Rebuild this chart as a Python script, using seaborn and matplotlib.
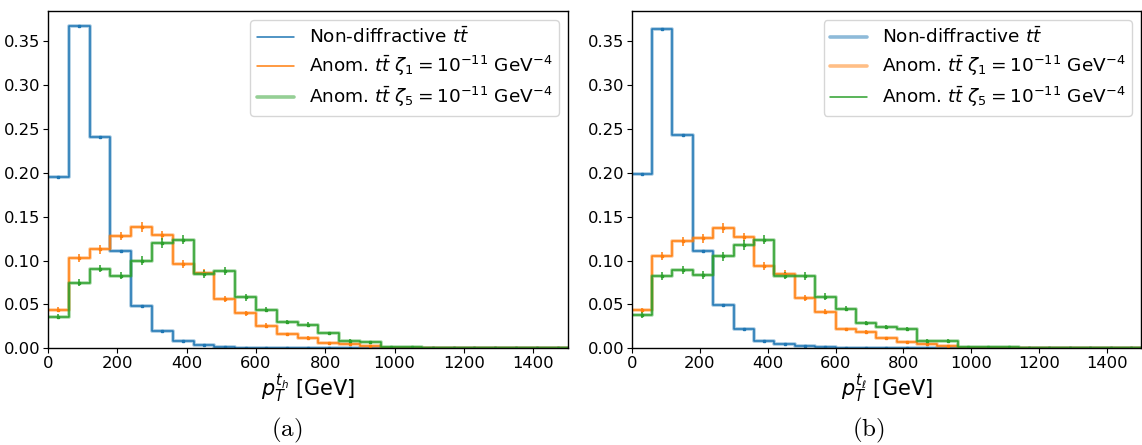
import numpy as np
import pandas as pd
import matplotlib
matplotlib.use("Agg")
import matplotlib.pyplot as plt
from matplotlib.lines import Line2D
import seaborn as sns

sns.set_style("ticks")
plt.rcParams['font.family'] = ['DejaVu Sans']
plt.rcParams['text.color'] = 'black'
plt.rcParams['axes.labelcolor'] = 'black'
plt.rcParams['xtick.color'] = 'black'
plt.rcParams['ytick.color'] = 'black'
plt.rcParams['axes.edgecolor'] = 'black'

bin_edges = list(range(0, 1501, 60))

# Panel (a): hadronic top pT
nd_a = [0.195, 0.367, 0.241, 0.111, 0.048, 0.020, 0.0085, 0.0035, 0.0016, 0.0009,
        0.0005, 0.0004, 0.0003, 0.0002, 0.0002, 0.0001, 0.0001, 0.0001, 0.00005, 0.00005,
        0.00005, 0.00003, 0.00003, 0.00002, 0.00002]
z1_a = [0.044, 0.103, 0.113, 0.128, 0.138, 0.129, 0.096, 0.086, 0.0565, 0.040,
        0.026, 0.016, 0.012, 0.0065, 0.0046, 0.0027, 0.0007, 0.0005, 0.0004, 0.0003,
        0.0002, 0.0002, 0.0001, 0.0001, 0.0001]
z5_a = [0.036, 0.075, 0.091, 0.083, 0.100, 0.120, 0.124, 0.085, 0.088, 0.058,
        0.044, 0.030, 0.027, 0.017, 0.0088, 0.007, 0.0015, 0.0012, 0.0009, 0.0006,
        0.0005, 0.0004, 0.0003, 0.0002, 0.0002]
nd_a_err = [0.0012, 0.0016, 0.0013, 0.0009, 0.0006, 0.0004, 0.0003, 0.0002, 0.0001, 0.0001,
            0.0001, 0.0001, 0.0001, 0.0001, 0.0001, 0.0001, 0.0001, 0.0001, 0.0001, 0.0001,
            0.0001, 0.0001, 0.0001, 0.0001, 0.0001]
z1_a_err = [0.003, 0.0045, 0.005, 0.005, 0.0055, 0.005, 0.0045, 0.004, 0.0035, 0.003,
            0.0025, 0.002, 0.0017, 0.0012, 0.001, 0.0008, 0.0004, 0.0003, 0.0003, 0.0002,
            0.0002, 0.0002, 0.0001, 0.0001, 0.0001]
z5_a_err = [0.003, 0.004, 0.0045, 0.0045, 0.005, 0.0055, 0.0055, 0.0045, 0.0045, 0.0035,
            0.003, 0.0025, 0.0025, 0.002, 0.0015, 0.0013, 0.0006, 0.0005, 0.0004, 0.0003,
            0.0003, 0.0003, 0.0002, 0.0002, 0.0002]

# Panel (b): leptonic top pT
nd_b = [0.199, 0.364, 0.243, 0.111, 0.049, 0.0216, 0.0087, 0.0045, 0.0023, 0.0011,
        0.0006, 0.0004, 0.0003, 0.0002, 0.0002, 0.0001, 0.0001, 0.0001, 0.00005, 0.00005,
        0.00005, 0.00003, 0.00003, 0.00002, 0.00002]
z1_b = [0.0435, 0.105, 0.122, 0.1256, 0.137, 0.127, 0.094, 0.085, 0.0575, 0.0416,
        0.0216, 0.0185, 0.0113, 0.0076, 0.005, 0.0026, 0.0008, 0.0006, 0.0004, 0.0003,
        0.0002, 0.0002, 0.0001, 0.0001, 0.0001]
z5_b = [0.038, 0.082, 0.0897, 0.0836, 0.105, 0.118, 0.124, 0.083, 0.082, 0.059,
        0.045, 0.029, 0.0246, 0.0216, 0.0087, 0.0087, 0.002, 0.0015, 0.001, 0.0007,
        0.0005, 0.0004, 0.0003, 0.0002, 0.0002]
nd_b_err = nd_a_err
z1_b_err = [0.003, 0.0045, 0.005, 0.005, 0.0055, 0.005, 0.0045, 0.004, 0.0035, 0.003,
            0.002, 0.002, 0.0015, 0.0012, 0.001, 0.0008, 0.0004, 0.0003, 0.0003, 0.0002,
            0.0002, 0.0002, 0.0001, 0.0001, 0.0001]
z5_b_err = [0.003, 0.0045, 0.0045, 0.0045, 0.005, 0.0055, 0.0055, 0.0045, 0.0045, 0.0035,
            0.003, 0.0025, 0.0025, 0.0022, 0.0015, 0.0015, 0.0007, 0.0006, 0.0005, 0.0004,
            0.0003, 0.0003, 0.0002, 0.0002, 0.0002]

labels = [r"Non-diffractive $t\bar{t}$",
          r"Anom. $t\bar{t}$ $\zeta_1 = 10^{-11}$ GeV$^{-4}$",
          r"Anom. $t\bar{t}$ $\zeta_5 = 10^{-11}$ GeV$^{-4}$"]
colors = ["#1f77b4", "#ff7f0e", "#2ca02c"]
xlabels = [r"$p_T^{t_h}$ [GeV]", r"$p_T^{t_\ell}$ [GeV]"]
captions = ["a", "b"]
caption_x = [287 / 1142, 868 / 1142]

fig = plt.figure(figsize=(11.42, 4.45), dpi=100)
ax_a = fig.add_axes([48 / 1142, 1 - 348.3 / 445, 520 / 1142, 337.6 / 445])
ax_b = fig.add_axes([631.7 / 1142, 1 - 348.3 / 445, 509.5 / 1142, 337.6 / 445])

edges = [float(e) for e in bin_edges]
centers = [0.5 * (edges[i] + edges[i + 1]) for i in range(len(edges) - 1)]

panels = [
    (ax_a, [nd_a, z1_a, z5_a], [nd_a_err, z1_a_err, z5_a_err], [False, False, True]),
    (ax_b, [nd_b, z1_b, z5_b], [nd_b_err, z1_b_err, z5_b_err], [True, True, False]),
]

for idx, (ax, series, errs, thick_legend) in enumerate(panels):
    for vals, err, c in zip(series, errs, colors):
        df = pd.DataFrame({"x": centers, "w": vals})
        sns.histplot(data=df, x="x", weights="w", bins=edges, element="step",
                     fill=False, color=c, lw=2.6, alpha=0.4, ax=ax)
        sns.histplot(data=df, x="x", weights="w", bins=edges, element="step",
                     fill=False, color=c, lw=1.1, ax=ax)
        ax.errorbar(centers, vals, yerr=err, fmt="s", ms=1.5, color=c, elinewidth=1.1,
                    capsize=0)
    ax.set_xlim(0, 1500)
    ax.set_ylim(0, 0.385)
    ax.set_ylabel("")
    ax.set_xlabel(xlabels[idx], fontsize=15, va="center")
    ax.xaxis.set_label_coords(0.5, -0.118)
    ax.tick_params(labelsize=11.8, length=3.5, pad=2, color="black", labelcolor="black")
    ax.set_yticks([0, 0.05, 0.10, 0.15, 0.20, 0.25, 0.30, 0.35])
    ax.set_yticklabels(["0.00", "0.05", "0.10", "0.15", "0.20", "0.25", "0.30", "0.35"])
    for sp in ax.spines.values():
        sp.set_visible(True)
        sp.set_color("black")
        sp.set_linewidth(1.0)
    handles = []
    for c, thick in zip(colors, thick_legend):
        if thick:
            handles.append(Line2D([], [], color=c, lw=2.6, alpha=0.5))
        else:
            handles.append(Line2D([], [], color=c, lw=1.1))
    leg = ax.legend(handles, labels, loc="upper right", fontsize=13.3, framealpha=0.8,
                    handlelength=2.0, labelspacing=0.35, borderpad=0.35)
    for t in leg.get_texts():
        t.set_color("black")
    fig.text(caption_x[idx], 1 - 430 / 445,
             r"$(\mathrm{" + captions[idx] + r"})$", math_fontfamily="cm",
             fontsize=18, ha="center", va="center", color="black")

fig.savefig("out.png", dpi=100)
